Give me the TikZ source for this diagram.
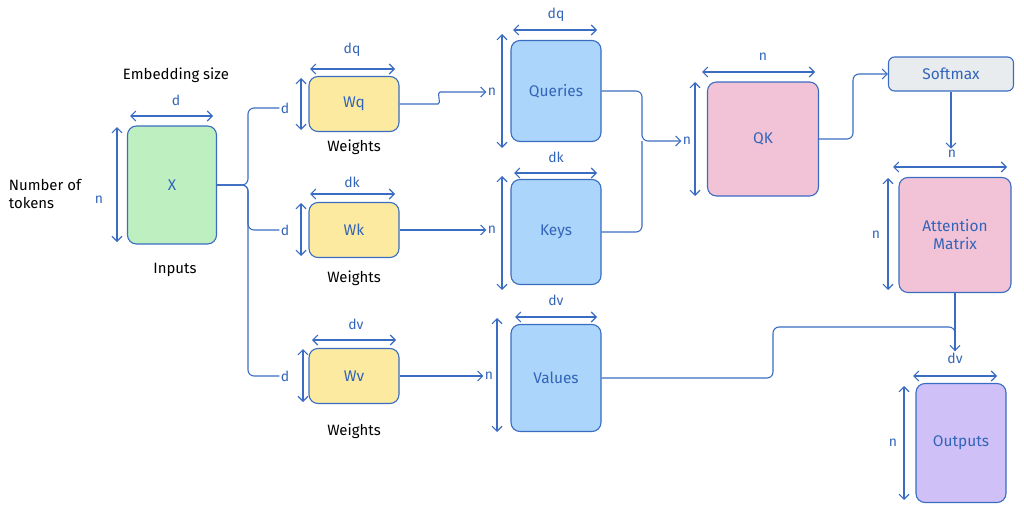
\documentclass[tikz,border=0pt]{standalone}
\usepackage{fontspec}
\setmainfont{Fira Sans}
\usepackage{tikz}
\usetikzlibrary{arrows,arrows.meta,shapes}
\definecolor{linecol}{RGB}{58,108,194}
\definecolor{txtblue}{RGB}{50,100,185}
\definecolor{xgreen}{RGB}{189,239,192}
\definecolor{wyellow}{RGB}{251,234,160}
\definecolor{qblue}{RGB}{171,213,250}
\definecolor{qkpink}{RGB}{242,194,214}
\definecolor{smgray}{RGB}{232,236,239}
\definecolor{outpurple}{RGB}{207,192,248}

\begin{document}
\begin{tikzpicture}[>={Straight Barb[length=5bp,width=10bp]}, yscale=-1, line width=1.1bp]
      \tikzstyle{every node}=[font=\fontsize{15.5}{18}\selectfont, text=txtblue]
      \tikzstyle{mat}=[draw=linecol, rounded corners=9bp, line width=1.1bp]
      \tikzstyle{dim}=[<->, draw=linecol]
      \tikzstyle{dimlbl}=[font=\fontsize{14}{16}\selectfont, inner sep=1bp]
      \tikzstyle{note}=[text=black, font=\fontsize{15}{18}\selectfont]
      \tikzstyle{wire}=[draw=linecol, rounded corners=6bp]

\useasboundingbox (0bp,0bp) rectangle (1024bp,511bp);
%%
\node (m_x) at (172bp,185bp) [mat,fill=xgreen,minimum width=89bp,minimum height=118bp] {X};
  \node (m_wq) at (354bp,104bp) [mat,fill=wyellow,minimum width=90bp,minimum height=55bp] {Wq};
  \node (m_wk) at (354bp,230bp) [mat,fill=wyellow,minimum width=90bp,minimum height=55bp] {Wk};
  \node (m_wv) at (354bp,376bp) [mat,fill=wyellow,minimum width=90bp,minimum height=55bp] {Wv};
  \node (m_q) at (556bp,91bp) [mat,fill=qblue,minimum width=90bp,minimum height=101bp] {Queries};
  \node (m_k) at (556bp,232bp) [mat,fill=qblue,minimum width=90bp,minimum height=105bp] {Keys};
  \node (m_v) at (556bp,378bp) [mat,fill=qblue,minimum width=90bp,minimum height=107bp] {Values};
  \node (m_qk) at (763bp,139bp) [mat,fill=qkpink,minimum width=111bp,minimum height=114bp] {QK};
  \node (m_sm) at (951bp,74bp) [mat,fill=smgray,rounded corners=6bp,minimum width=125bp,minimum height=34bp] {Softmax};
  \node (m_att) at (955bp,235bp) [mat,fill=qkpink,minimum width=112bp,minimum height=115bp,align=center] {Attention\\Matrix};
  \node (m_out) at (961bp,443bp) [mat,fill=outpurple,minimum width=90bp,minimum height=119bp] {Outputs};
%%
  \node (t_emb) at (176bp,75bp) [note] {Embedding size};
  \node (t_tok) at (5bp,194bp) [note,anchor=west,align=left] {Number of\\tokens};
  \node (t_in) at (175bp,270bp) [note] {Inputs};
  \node (t_wq) at (354bp,147bp) [note] {Weights};
  \node (t_wk) at (354bp,278bp) [note] {Weights};
  \node (t_wv) at (354bp,431bp) [note] {Weights};
%%
  \node (l_xd) at (176bp,100bp) [dimlbl] {d};
  \node (l_xn) at (99bp,200bp) [dimlbl] {n};
  \node (l_wqd) at (285bp,108bp) [dimlbl] {d};
  \node (l_wkd) at (285bp,230bp) [dimlbl] {d};
  \node (l_wvd) at (285bp,376bp) [dimlbl] {d};
  \node (l_wqt) at (352bp,50bp) [dimlbl] {dq};
  \node (l_wkt) at (352bp,182bp) [dimlbl] {dk};
  \node (l_wvt) at (356bp,324bp) [dimlbl] {dv};
  \node (l_qn) at (492bp,92bp) [dimlbl] {n};
  \node (l_kn) at (492bp,230bp) [dimlbl] {n};
  \node (l_vn) at (489bp,376bp) [dimlbl] {n};
  \node (l_qt) at (556bp,15bp) [dimlbl] {dq};
  \node (l_kt) at (556bp,157bp) [dimlbl] {dk};
  \node (l_vt) at (556bp,300bp) [dimlbl] {dv};
  \node (l_qkn) at (687bp,141bp) [dimlbl] {n};
  \node (l_qkt) at (763bp,57bp) [dimlbl] {n};
  \node (l_an) at (952bp,154bp) [dimlbl] {n};
  \node (l_al) at (876bp,235bp) [dimlbl] {n};
  \node (l_odv) at (955bp,358bp) [dimlbl] {dv};
  \node (l_on) at (893bp,443bp) [dimlbl] {n};
%%
  \draw [dim] (130bp,116bp) -- (213bp,116bp);
  \draw [dim] (117bp,127bp) -- (117bp,242bp);
  \draw [dim] (310bp,69bp) -- (395bp,69bp);
  \draw [dim] (301bp,78bp) -- (301bp,130bp);
  \draw [dim] (310bp,194bp) -- (395bp,194bp);
  \draw [dim] (301bp,203bp) -- (301bp,256bp);
  \draw [dim] (312bp,340bp) -- (396bp,340bp);
  \draw [dim] (303bp,349bp) -- (303bp,402bp);
  \draw [dim] (513bp,30bp) -- (597bp,30bp);
  \draw [dim] (502bp,34bp) -- (502bp,148bp);
  \draw [dim] (514bp,173bp) -- (597bp,173bp);
  \draw [dim] (502bp,176bp) -- (502bp,290bp);
  \draw [dim] (515bp,317bp) -- (597bp,317bp);
  \draw [dim] (497bp,318bp) -- (497bp,432bp);
  \draw [dim] (702bp,72bp) -- (815bp,72bp);
  \draw [dim] (695bp,82bp) -- (695bp,196bp);
  \draw [dim] (893bp,167bp) -- (1007bp,167bp);
  \draw [dim] (888bp,178bp) -- (888bp,290bp);
  \draw [dim] (913bp,376bp) -- (997bp,376bp);
  \draw [dim] (904bp,386bp) -- (904bp,500bp);
%%
  \coordinate (c_split) at (248bp,185bp);
  \coordinate (c_qk) at (642bp,141bp);
  \coordinate (c_sm) at (853bp,74bp);
  \coordinate (c_vj) at (773bp,327bp);
  \draw [wire] (m_x.east) -- (c_split) |- (l_wqd.west);
  \draw [wire] (m_x.east) -- (c_split) |- (l_wkd.west);
  \draw [wire] (m_x.east) -- (c_split) |- (l_wvd.west);
  \draw [wire,->] (m_wq.east) -- (432bp,104bp) ..controls (442bp,104bp) and (436bp,92bp) .. (446bp,92bp) -- (l_qn.west);
  \draw [wire,->] (m_wk.east) -- (l_kn.west);
  \draw [wire,->] (m_wv.east) -- (l_vn.west);
  \draw [wire,->] (m_q.east) -| (c_qk) -- (l_qkn.west);
  \draw [wire] (m_k.east) -| (c_qk);
  \draw [wire,->] (m_qk.east) -| (c_sm) -- (m_sm.west);
  \draw [wire,->] (m_sm.south) -- (m_sm.south |- l_an.north);
  \draw [wire] (m_v.east) -| (c_vj) -| (m_att.south |- l_odv.north);
  \draw [wire,->] (m_att.south) -- (l_odv.north);
%
\end{tikzpicture}
\end{document}
